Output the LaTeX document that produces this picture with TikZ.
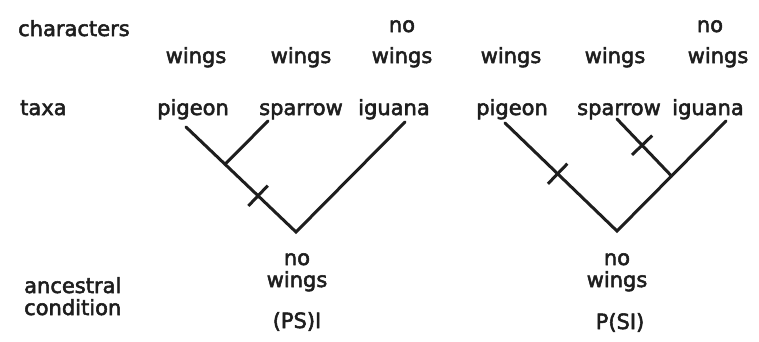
\documentclass[tikz,border=0pt]{standalone}
\usepackage{fontspec}
\setmainfont{DejaVu Sans}[FakeBold=2.5]
\usetikzlibrary{calc}
\definecolor{ink}{HTML}{1e1e1e}
\tikzset{
  lbl/.style={anchor=base,inner sep=0pt,text=ink,font=\fontsize{21}{22}\selectfont},
  lbll/.style={lbl,anchor=base west},
  branch/.style={draw=ink,line width=3pt,line cap=round,line join=miter},
  tick/.style={draw=ink,line width=3pt}
}
\begin{document}
\begin{tikzpicture}[x=1pt,y=-1pt]
\useasboundingbox (0,0) rectangle (759,341);
% left column labels
\node[lbll] (chr) at (18,36) {characters};
\node[lbll] (tax) at (20,115) {taxa};
\node[lbll] (anc) at (24,293) {ancestral};
\node[lbll] (cnd) at (24,315) {condition};
% tree 1 characters and taxa
\node[lbl] (c1a) at (196,63) {wings};
\node[lbl] (c1b) at (301,63) {wings};
\node[lbl] (c1n) at (402,32) {no};
\node[lbl] (c1c) at (402,63) {wings};
\node[lbl] (t1a) at (193,115) {pigeon};
\node[lbl] (t1b) at (301,115) {sparrow};
\node[lbl] (t1c) at (394,115) {iguana};
% tree 2 characters and taxa
\node[lbl] (c2a) at (511,63) {wings};
\node[lbl] (c2b) at (615,63) {wings};
\node[lbl] (c2n) at (710,32) {no};
\node[lbl] (c2c) at (718,63) {wings};
\node[lbl] (t2a) at (512,115) {pigeon};
\node[lbl] (t2b) at (619,115) {sparrow};
\node[lbl] (t2c) at (708,115) {iguana};
% bottom labels
\node[lbl] (b1n) at (297,265) {no};
\node[lbl] (b1w) at (297,287) {wings};
\node[lbl] (b1h) at (297,328) {(PS)I};
\node[lbl] (b2n) at (617,265) {no};
\node[lbl] (b2w) at (617,287) {wings};
\node[lbl] (b2h) at (620,329) {P(SI)};
% tree 1
\coordinate (p1) at (186,127);
\coordinate (s1) at (268,121);
\coordinate (i1) at (405,122);
\coordinate (r1) at (296,232);
\coordinate (j1) at ($(p1)!0.355!(r1)$);
\draw[branch] (p1) -- (r1) -- (i1);
\draw[branch] (s1) -- (j1);
\coordinate (k1) at ($(p1)!0.655!(r1)$);
\draw[tick] ($(k1)!14pt!90:(r1)$) -- ($(k1)!14pt!-90:(r1)$);
% tree 2
\coordinate (p2) at (505,123);
\coordinate (s2) at (617,119);
\coordinate (i2) at (726,121);
\coordinate (r2) at (617,231);
\coordinate (j2) at ($(r2)!0.5!(i2)$);
\draw[branch] (p2) -- (r2) -- (i2);
\draw[branch] (s2) -- (j2);
\coordinate (k2) at ($(p2)!0.47!(r2)$);
\draw[tick] ($(k2)!14pt!90:(r2)$) -- ($(k2)!14pt!-90:(r2)$);
\coordinate (k3) at ($(s2)!0.46!(j2)$);
\draw[tick] ($(k3)!14pt!90:(j2)$) -- ($(k3)!14pt!-90:(j2)$);
\end{tikzpicture}
\end{document}
